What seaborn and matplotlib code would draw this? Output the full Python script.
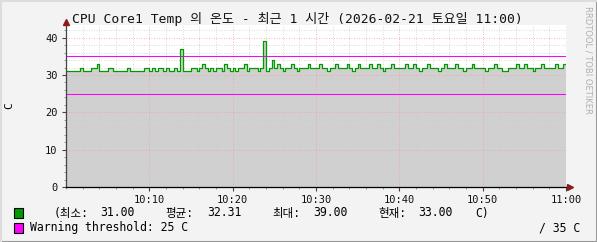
import matplotlib
matplotlib.use("Agg")
import matplotlib.pyplot as plt
import seaborn as sns
import numpy as np
import pandas as pd
from matplotlib.patches import Rectangle
from matplotlib.lines import Line2D
from matplotlib.ticker import MultipleLocator, FixedLocator

# ---------------- data ----------------
temps = [
    31,31,31,31,31,32,31,31,31,32, 32,33,31,31,31,32,32,31,31,31, 31,31,32,31,31,31,31,31,32,32,
    31,32,31,32,32,31,32,31,31,32, 31,37,31,31,31,32,32,31,32,33, 32,31,32,31,32,32,31,33,32,31,
    32,31,32,32,33,31,32,32,32,31, 32,39,31,32,34,32,33,32,31,32, 32,33,32,31,32,32,32,33,32,32,
    32,33,32,32,31,32,32,33,32,32, 32,33,32,31,32,33,32,32,32,33, 32,32,33,32,31,32,32,33,32,32,
    32,32,33,32,32,33,32,31,32,32, 33,32,32,32,31,32,33,32,32,32, 33,32,32,31,32,32,33,32,32,32,
    32,31,32,32,33,32,32,31,31,32, 32,32,33,32,32,33,32,32,31,32, 32,33,32,32,32,32,33,32,32,33,
    33,
]
minutes = [i / 3 for i in range(len(temps))]  # 20-second samples, 10:00 -> 11:00
x_ticks = [10, 20, 30, 40, 50, 60]
x_tick_labels = ["10:10", "10:20", "10:30", "10:40", "10:50", "11:00"]
y_ticks = [0, 10, 20, 30, 40]
warning_threshold = 25
critical_threshold = 35
stat_names = ["(최소:", "평균:", "최대:", "현재:"]
stat_values = ["31.00", "32.31", "39.00", "33.00"]
title = "CPU Core1 Temp 의 온도 - 최근 1 시간 (2026-02-21 토요일 11:00)"

df = pd.DataFrame({"minute": minutes, "temp": temps})

# ---------------- figure ----------------
W, H = 597, 242
fig = plt.figure(figsize=(W / 100, H / 100), dpi=100)
fig.patch.set_facecolor("#f3f3f3")
ax = fig.add_axes([66 / W, 1 - 187 / H, 500 / W, (187 - 25) / H])
ax.set_facecolor("white")

MONO = ["DejaVu Sans Mono", "Noto Sans CJK KR"]

ax.fill_between(df["minute"], df["temp"], 0, step="post", color="#d0d0d0", lw=0, zorder=1)
sns.lineplot(data=df, x="minute", y="temp", ax=ax, color="#009a00", lw=0.9,
             drawstyle="steps-post", zorder=4)
ax.axhline(critical_threshold, color="#ff00ff", lw=0.75, zorder=3)
ax.axhline(warning_threshold, color="#ff00ff", lw=0.75, zorder=3)

ax.set_xlim(0, 60)
ax.set_ylim(0, 43.4)
ax.xaxis.set_major_locator(FixedLocator(x_ticks))
ax.set_xticklabels(x_tick_labels)
ax.xaxis.set_minor_locator(MultipleLocator(2))
ax.set_yticks(y_ticks)
ax.yaxis.set_minor_locator(MultipleLocator(2))
ax.grid(which="minor", color="#cccccc", ls=(0, (1, 2)), lw=0.6, zorder=2)
ax.grid(which="major", color="#f0a0a0", ls=(0, (1, 2)), lw=0.6, zorder=2)
ax.set_axisbelow(False)
for l in ax.get_xgridlines() + ax.get_ygridlines():
    l.set_zorder(2)

for s in ["top", "right"]:
    ax.spines[s].set_visible(False)
ax.spines["left"].set_color("#444444")
ax.spines["bottom"].set_color("#000000")
ax.spines["left"].set_linewidth(0.9)
ax.spines["bottom"].set_linewidth(0.9)
ax.spines["left"].set_zorder(6)
ax.spines["bottom"].set_zorder(6)
ax.tick_params(axis="both", which="major", length=3, width=0.8, color="#444444",
               labelsize=7.5, labelcolor="#111111", pad=3)
ax.tick_params(axis="both", which="minor", length=1.5, width=0.6, color="#888888")
for lab in ax.get_xticklabels() + ax.get_yticklabels():
    lab.set_family(MONO)
ax.set_xlabel("")
ax.set_ylabel("C", rotation=90, fontsize=8, family=MONO, labelpad=22)

# axis arrows
ax.plot([0], [1.02], marker="^", color="#8b1a1a", ms=5, transform=ax.transAxes, clip_on=False, zorder=7)
ax.plot([1.008], [0], marker=">", color="#8b1a1a", ms=5, transform=ax.transAxes, clip_on=False, zorder=7)

def ftext(x, y, s, **kw):
    kw.setdefault("family", MONO)
    kw.setdefault("fontsize", 8.3)
    kw.setdefault("va", "center")
    fig.text(x / W, 1 - y / H, s, **kw)

ftext(297, 19, title, fontsize=9.4, ha="center", color="#111111")
ftext(588, 60, "RRDTOOL / TOBI OETIKER", fontsize=6, rotation=270, ha="center",
      color="#b0b0b0", family=["DejaVu Sans"])

# legend
fig.patches.append(Rectangle((14 / W, 1 - 218 / H), 9 / W, 10 / H, transform=fig.transFigure,
                             facecolor="#009a00", edgecolor="black", lw=0.8))
fig.patches.append(Rectangle((14 / W, 1 - 233 / H), 9 / W, 10 / H, transform=fig.transFigure,
                             facecolor="#ff00ff", edgecolor="black", lw=0.8))
name_x = [54, 165, 272, 378]
val_x = [100, 207, 313, 418]
for nx, vx, n, v in zip(name_x, val_x, stat_names, stat_values):
    ftext(nx, 213, n)
    ftext(vx, 213, v)
ftext(475, 213, "C)")
ftext(30, 228, f"Warning threshold: {warning_threshold} C")
ftext(580, 228, f"/ {critical_threshold} C", ha="right")

# frame border
fig.lines.append(Line2D([0, 1], [0.5 / H, 0.5 / H], transform=fig.transFigure, color="#999999", lw=1.5))
fig.lines.append(Line2D([1 - 0.5 / W, 1 - 0.5 / W], [0, 1], transform=fig.transFigure, color="#999999", lw=1.5))
fig.lines.append(Line2D([0, 1], [1 - 0.5 / H, 1 - 0.5 / H], transform=fig.transFigure, color="#dddddd", lw=1.5))
fig.lines.append(Line2D([0.5 / W, 0.5 / W], [0, 1], transform=fig.transFigure, color="#dddddd", lw=1.5))

fig.savefig("out.png", dpi=100, facecolor=fig.get_facecolor())
